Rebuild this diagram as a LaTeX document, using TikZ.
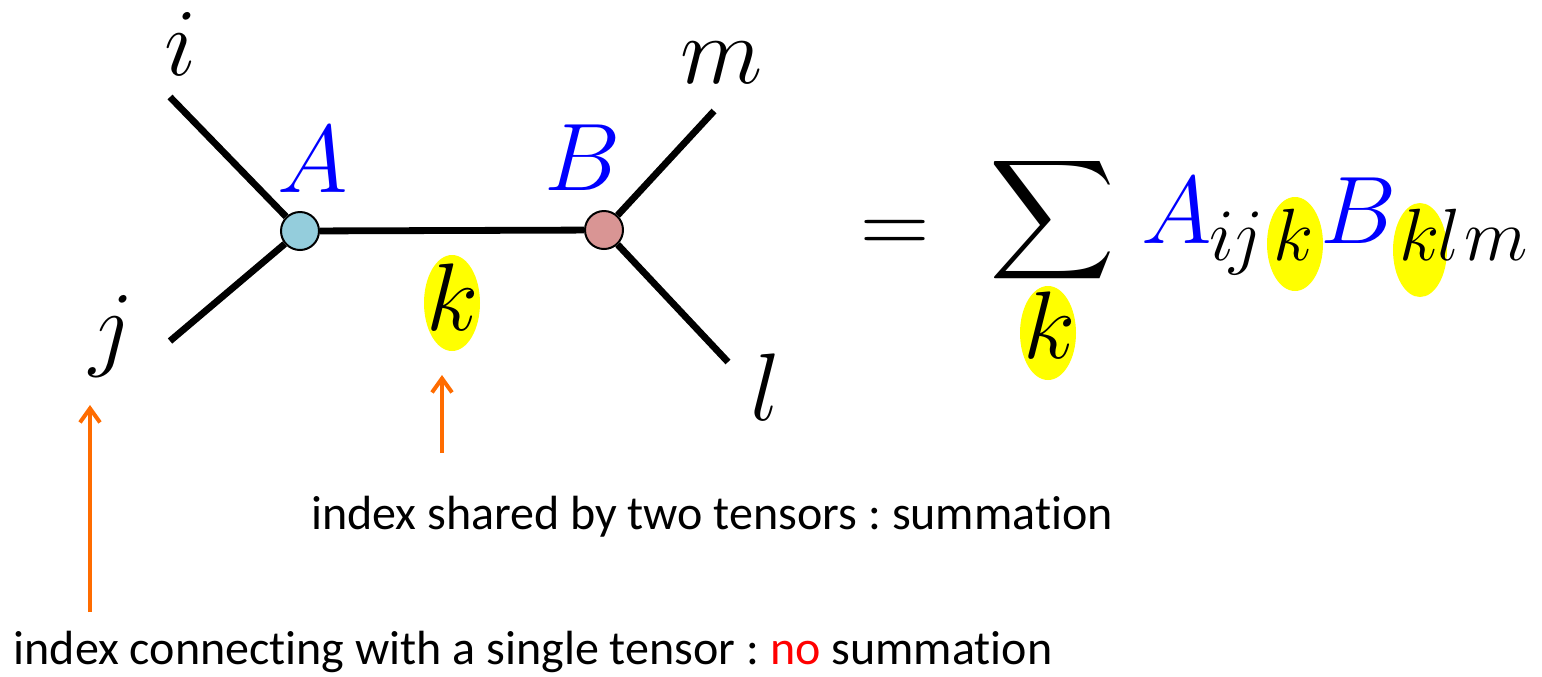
\documentclass[tikz,border=0pt]{standalone}
\usepackage{fix-cm}
\usepackage{graphicx}
\usepackage{fontspec}
\newfontfamily\carlito[Ligatures=NoCommon]{Carlito}
\usetikzlibrary{arrows.meta}
\frenchspacing
\definecolor{nodeA}{RGB}{148,205,220}
\definecolor{nodeB}{RGB}{217,149,148}
\definecolor{arrowor}{RGB}{255,108,0}
\definecolor{mathblue}{RGB}{0,0,255}
\definecolor{hl}{RGB}{255,255,0}
\tikzset{
  leg/.style={line width=3.4pt},
  tensor/.style={circle, draw=black, line width=1pt, minimum size=19pt, inner sep=0pt},
  idx/.style={inner sep=0pt, anchor=base, font=\fontsize{48}{56}\selectfont},
  tname/.style={idx, text=mathblue},
  subidx/.style={inner sep=0pt, anchor=base, font=\fontsize{37}{44}\selectfont},
  hlell/.style={fill=hl, draw=none},
  pointer/.style={draw=arrowor, line width=2pt, -{Straight Barb[length=7pt,width=10pt,line width=2pt]}},
  caption/.style={inner sep=0pt, anchor=base, font=\carlito\fontsize{24}{28}\selectfont}
}
\begin{document}
\begin{tikzpicture}[x=0.5pt,y=-0.5pt]
\useasboundingbox (0,0) rectangle (1542,676);
% highlight ellipses
\fill[hlell] (452,303) ellipse [x radius=28, y radius=48];
\fill[hlell] (1048,333) ellipse [x radius=28, y radius=47];
\fill[hlell] (1295,244) ellipse [x radius=28, y radius=47];
\fill[hlell] (1420,250) ellipse [x radius=27, y radius=47];
% tensors
\node[tensor, fill=nodeA] (A) at (300,231) {};
\node[tensor, fill=nodeB] (B) at (604,230) {};
\coordinate (ei) at (170,97);
\coordinate (ej) at (170,341);
\coordinate (em) at (714,111);
\coordinate (el) at (728,362);
\draw[leg] (ei) -- (A);
\draw[leg] (ej) -- (A);
\draw[leg] (em) -- (B);
\draw[leg] (el) -- (B);
\draw[leg] (A) -- (B);
% labels
\node[idx] (li) at (181,75) {$i$};
\node[idx] (lj) at (112,358) {$j$};
\node[idx] (lm) at (722,83) {$m$};
\node[idx] (ll) at (766,420) {$l$};
\node[tname] (lA) at (313,192) {$A$};
\node[tname] (lB) at (583,190) {$B$};
\node[idx] (lk) at (453,330) {$k$};
% pointers
\coordinate (p1s) at (90,612);
\coordinate (p1e) at (90,405);
\coordinate (p2s) at (442,453);
\coordinate (p2e) at (442,375);
\draw[pointer] (p1s) -- (p1e);
\draw[pointer] (p2s) -- (p2e);
% captions
\node[caption] (c1) at (712,529) {index shared by two tensors : summation};
\node[caption] (c2) at (533,664) {index connecting with a single tensor : \textcolor{red}{no} summation};
% equation
\node[idx] (eq) at (895,254) {$=$};
\node[inner sep=0pt] (sum) at (1053,220) {\resizebox*{63pt}{67pt}{$\displaystyle\sum$}};
\node[idx] (sk) at (1050,358) {$k$};
\node[tname, anchor=base west] (eA) at (1141,243) {$A$};
\node[subidx] (s1) at (1222,260) {$i$};
\node[subidx] (s2) at (1247,260) {$j$};
\node[subidx] (s3) at (1294,260) {$k$};
\node[tname, anchor=base west] (eB) at (1320,243) {$B$};
\node[subidx] (s4) at (1420,260) {$k$};
\node[subidx] (s5) at (1449,260) {$l$};
\node[subidx] (s6) at (1496,260) {$m$};
\end{tikzpicture}
\end{document}
